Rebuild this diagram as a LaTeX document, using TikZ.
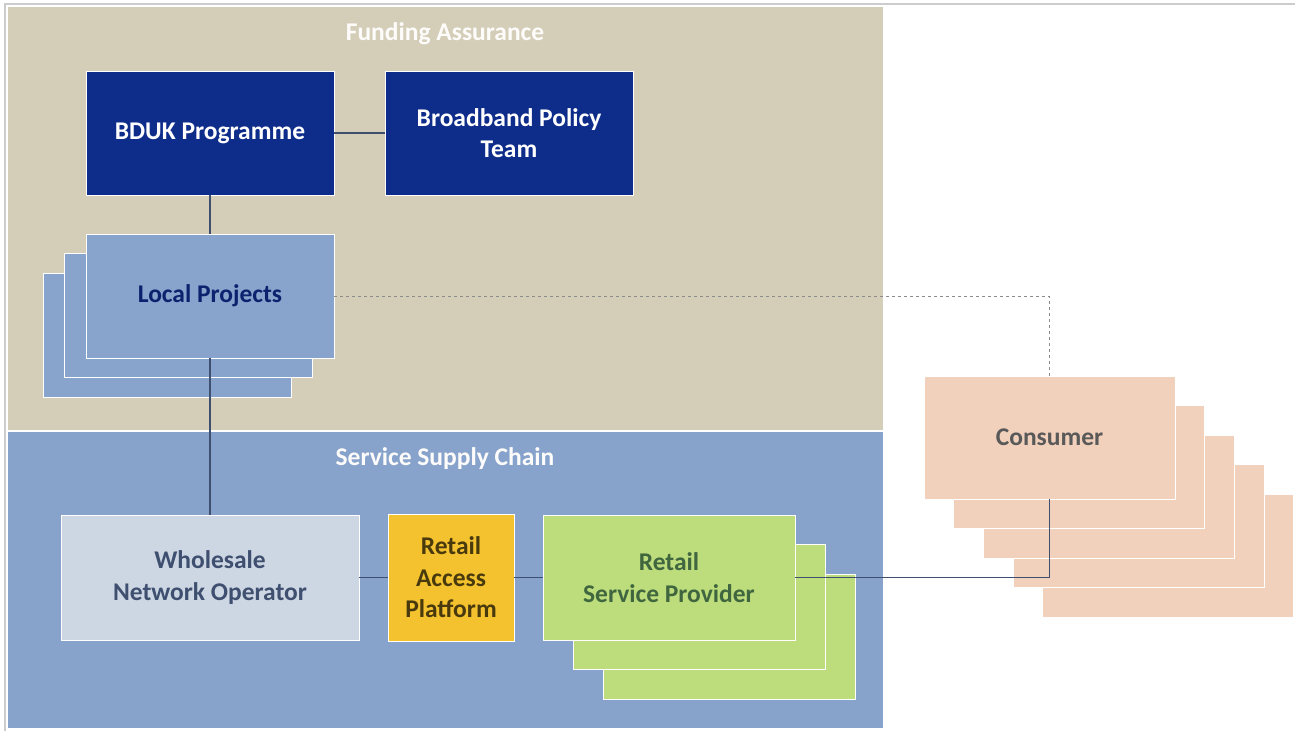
\documentclass[tikz,border=0pt]{standalone}
\usepackage{fontspec}
\setmainfont{Carlito}
\usetikzlibrary{positioning}

\definecolor{tanpanel}{HTML}{D4CEB8}
\definecolor{bluepanel}{HTML}{87A3CB}
\definecolor{navybox}{HTML}{0E2C8A}
\definecolor{localbox}{HTML}{88A3CC}
\definecolor{wholebox}{HTML}{CDD6E3}
\definecolor{accessbox}{HTML}{F3C22E}
\definecolor{retailbox}{HTML}{BDDC7B}
\definecolor{consbox}{HTML}{F2D1BC}
\definecolor{linkcol}{HTML}{3F4F70}

\begin{document}
\begin{tikzpicture}[x=1pt, y=-1pt, box/.style={ draw=white,
    line width=1pt, anchor=north west, inner sep=0pt, outer sep=0pt,
    align=center, font=\bfseries\fontsize{25.5}{31.5}\selectfont },
    navy/.style={ box, fill=navybox, text=white, minimum width=248pt,
    minimum height=124pt }, local/.style={ box, fill=localbox,
    text=navybox!80!black, minimum width=248pt, minimum height=124pt },
    retail/.style={ box, fill=retailbox, text=green!20!black!75,
    minimum width=252pt, minimum height=125pt }, cons/.style={ box,
    fill=consbox, text=black!65, minimum width=251pt,
    minimum height=123pt }, title/.style={ text=white!95!tanpanel,
    font=\bfseries\fontsize{25.5}{30}\selectfont }, link/.style={
    linkcol, line width=1.1pt } ]
  \useasboundingbox (0,0) rectangle (1295,731);
  \draw[black!20, line width=1.5pt] (5,731) |- (1295,4);
  % panels
  \fill[tanpanel] (8,7) rectangle (883,430);
  \fill[bluepanel] (8,432) rectangle (883,728);
  \node[title] (fund) at (445,34) {Funding Assurance};
  \node[title] (chain) at (445,459) {Service Supply Chain};
  % funding side
  \node[navy] (bduk) at (86,71) {BDUK Programme};
  \node[navy] (bpt) at (385,71) {Broadband Policy\\Team};
  \foreach \x/\y in {43/273,64/253}
  \node[local] at (\x,\y) {};
  \node[local] (lp) at (86,234) {Local Projects};
  % supply chain
  \node[box, fill=wholebox, text=linkcol, minimum width=298pt,
  minimum height=125pt] (wno) at (61,515) {Wholesale\\Network Operator};
  \node[box, fill=accessbox, text=black!70!accessbox, minimum width=126pt,
  minimum height=127pt] (rap) at (388,514) {Retail\\Access\\Platform};
  \foreach \x/\y in {603/574,573/544}
  \node[retail] at (\x,\y) {};
  \node[retail] (rsp) at (543,515) {Retail\\Service Provider};
  % consumers
  \foreach \i in {4,3,2,1}
  \node[cons] at (924+29.7*\i,376+29.5*\i) {};
  \node[cons] (con) at (924,376) {Consumer};
  % connectors
  \draw[link] (bduk) -- (bpt);
  \draw[link] (bduk) -- (lp);
  \draw[link] (lp.south) -- (lp.south |- wno.north);
  \draw[link] (wno) -- (rap);
  \draw[link] (rap) -- (rsp);
  \draw[link] (rsp.east) -| (con.south);
  \draw[black!45, line width=1pt, dashed] (lp.east) -| (con.north);
\end{tikzpicture}
\end{document}
